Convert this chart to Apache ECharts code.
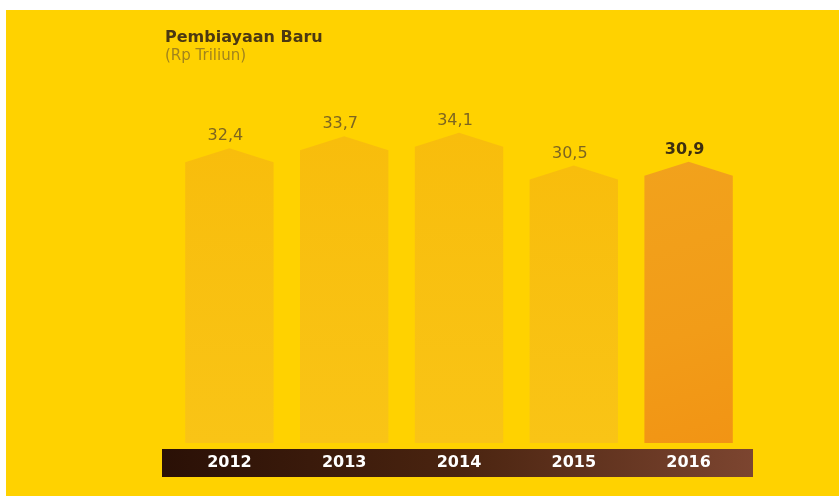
<!DOCTYPE html>
<html>
<head>
<meta charset="utf-8">
<script src="https://cdn.jsdelivr.net/npm/echarts@6/dist/echarts.min.js"></script>
<style>
  html, body { margin: 0; padding: 0; background: #ffffff; }
  #chart { position: absolute; left: 6px; top: 10px; width: 833px; height: 486px; background: #FFD200; }
</style>
</head>
<body>
<div id="chart"></div>
<script>
// data
var years = ['2012', '2013', '2014', '2015', '2016'];
var values = [32.4, 33.7, 34.1, 30.5, 30.9];

var chart = echarts.init(document.getElementById('chart'));

// bar fill: highlight last year
function barFill(i) {
    if (i === years.length - 1) {
        return new echarts.graphic.LinearGradient(0, 0, 1, 1, [
            {offset: 0, color: '#F2A21C'},
            {offset: 0.6, color: '#F29C18'},
            {offset: 1, color: '#F29414'}
        ]);
    }
    return new echarts.graphic.LinearGradient(0, 0, 0, 1, [
        {offset: 0, color: '#F8BD0C'},
        {offset: 1, color: '#F9C416'}
    ]);
}

function fmt(v) {
    return v.toFixed(1).replace('.', ',');
}

var option = {
    animation: false,
    graphic: [
        {
            type: 'rect',
            shape: {x: 156, y: 439, width: 591, height: 28},
            style: {
                fill: new echarts.graphic.LinearGradient(0, 0, 1, 0, [
                    {offset: 0, color: '#2a1006'},
                    {offset: 0.5, color: '#4a2410'},
                    {offset: 1, color: '#7c4530'}
                ])
            },
            z: 0
        },
        {
            type: 'text',
            left: 159, top: 20,
            style: {text: 'Pembiayaan Baru', fill: '#4b3812', font: 'bold 16px "DejaVu Sans"'}
        },
        {
            type: 'text',
            left: 159, top: 39,
            style: {text: '(Rp Triliun)', fill: '#a2841c', font: '15px "DejaVu Sans"'}
        }
    ],
    grid: {left: 166, right: 93, top: 69, bottom: 53},
    xAxis: {
        type: 'category',
        data: years,
        axisLine: {show: false},
        axisTick: {show: false},
        axisLabel: {
            margin: 12,
            color: '#ffffff',
            fontWeight: 'bold',
            fontSize: 16,
            fontFamily: 'DejaVu Sans'
        },
        z: 5
    },
    yAxis: {
        type: 'value',
        min: 0,
        max: 40,
        show: false
    },
    series: [{
        type: 'custom',
        data: values.map(function (v, i) { return [i, v]; }),
        renderItem: function (params, api) {
            var i = api.value(0);
            var v = api.value(1);
            var top = api.coord([i, v]);
            var base = api.coord([i, 0]);
            var w = api.size([1, 0])[0] * 0.77;
            var cap = 14;
            var x0 = top[0] - w / 2, x1 = top[0] + w / 2;
            var last = i === years.length - 1;
            return {
                type: 'group',
                children: [
                    {
                        type: 'polygon',
                        shape: {points: [
                            [x0, base[1]], [x1, base[1]],
                            [x1, top[1] + cap], [top[0], top[1]], [x0, top[1] + cap]
                        ]},
                        style: {fill: barFill(i)}
                    },
                    {
                        type: 'text',
                        x: top[0] - 4, y: top[1] - 12,
                        style: {
                            text: fmt(v),
                            fill: last ? '#3e2f10' : '#7d6520',
                            font: (last ? 'bold ' : '') + '16px "DejaVu Sans"',
                            align: 'center',
                            verticalAlign: 'middle'
                        }
                    }
                ]
            };
        }
    }]
};

chart.setOption(option);
</script>
</body>
</html>
